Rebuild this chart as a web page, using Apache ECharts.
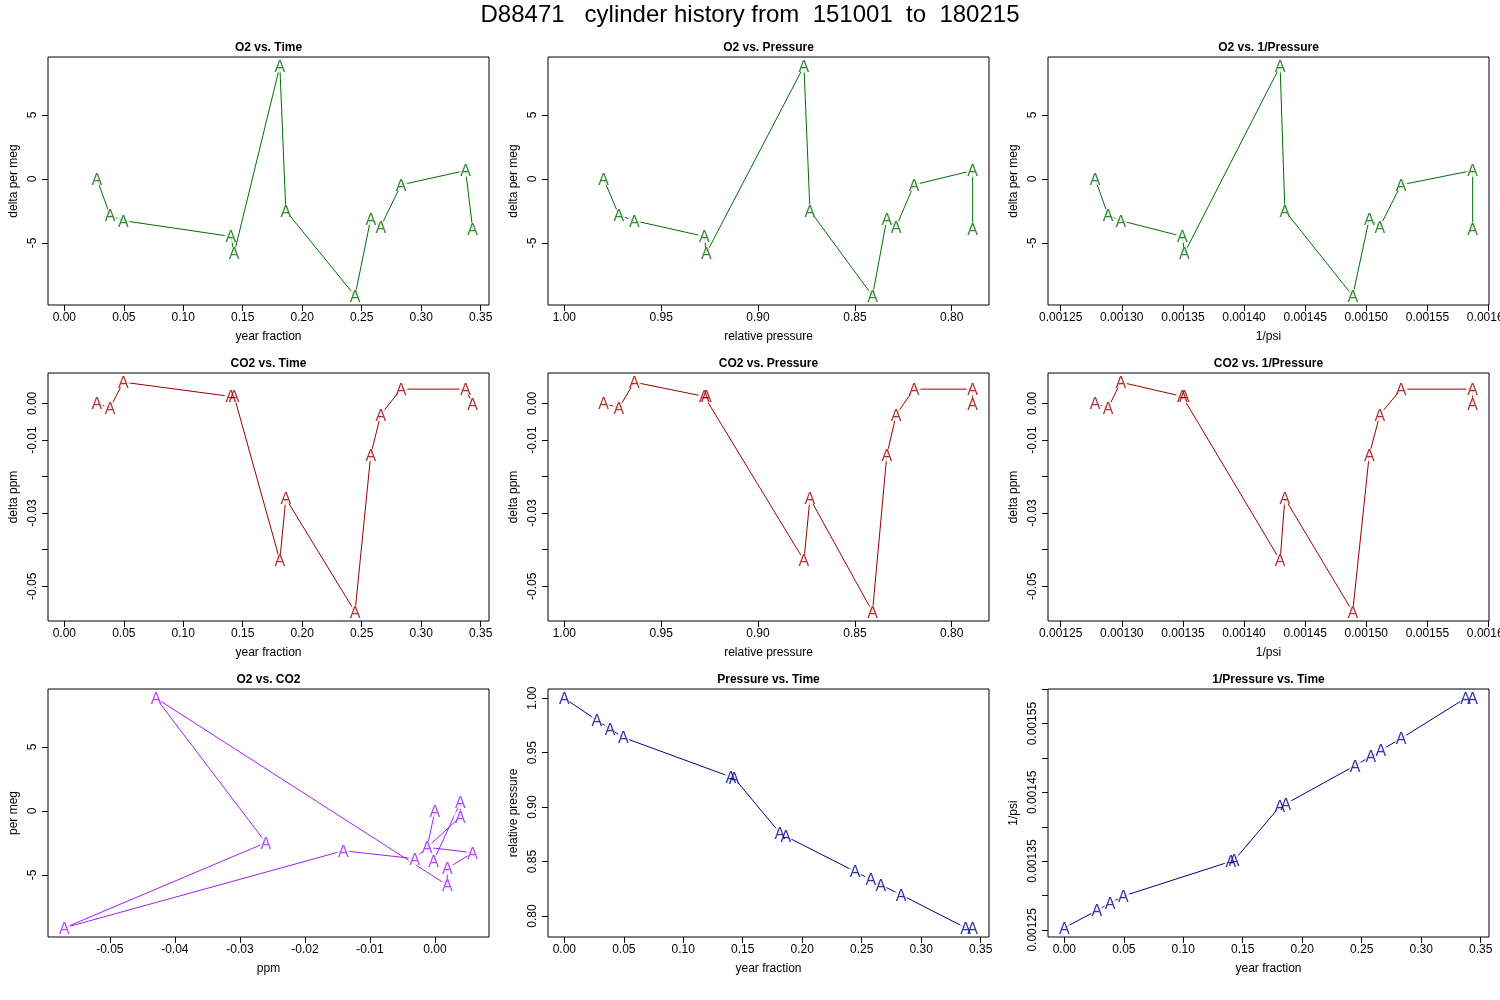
<!DOCTYPE html>
<html>
<head>
<meta charset="utf-8">
<script src="https://cdn.jsdelivr.net/npm/echarts@6/dist/echarts.min.js"></script>
<style>
html,body{margin:0;padding:0;background:#fff;}
#chart{width:1500px;height:1000px;}
</style>
</head>
<body>
<div id="chart"></div>
<script>
// ---- data ----
// index 0 = initial fill (pressure only); indices 1..13 have O2/CO2 measurements
const yearFraction = [0.0000, 0.0274, 0.0384, 0.0496, 0.1400, 0.1428, 0.1812, 0.1862, 0.2444, 0.2576, 0.2660, 0.2831, 0.3374, 0.3433];
const relPressure  = [1.0000, 0.9797, 0.9718, 0.9639, 0.9277, 0.9267, 0.8763, 0.8732, 0.8409, 0.8335, 0.8287, 0.8195, 0.7892, 0.7892];
const invPsi       = [0.0012530, 0.0012782, 0.0012888, 0.0012992, 0.0013496, 0.0013512, 0.0014295, 0.0014334, 0.0014889, 0.0015024, 0.0015111, 0.0015284, 0.0015870, 0.0015870];
const o2PerMeg     = [0.00, -2.85, -3.27, -4.50, -5.81, 8.80, -2.49, -9.14, -3.12, -3.74, -0.47, 0.65, -3.90];
const co2Ppm       = [0.0000, -0.0012, 0.0058, 0.0019, 0.0019, -0.0429, -0.0260, -0.0570, -0.0141, -0.0031, 0.0039, 0.0039, -0.0002];

const timeTicks = [0, 0.05, 0.10, 0.15, 0.20, 0.25, 0.30, 0.35];
const pressureTicks = [0.80, 0.85, 0.90, 0.95, 1.00];
const invPsiTicks = [0.00125, 0.00130, 0.00135, 0.00140, 0.00145, 0.00150, 0.00155, 0.00160];
const invPsiYLabels = [0.00125, 0.00135, 0.00145, 0.00155];
const o2Ticks = [-5, 0, 5];
const co2Ticks = [0, -0.01, -0.02, -0.03, -0.04, -0.05];
const co2YLabels = [0, -0.01, -0.03, -0.05];

const mainTitle = 'D88471   cylinder history from  151001  to  180215';

// ---- layout / style ----
const F = 'Liberation Sans, Arial, Helvetica, sans-serif';
const GREEN = '#006E00', RED = '#990000', PURPLE = '#A020F0', BLUE = '#00008B';
const LEFTS = [48, 548, 1048], TOPS = [57, 373, 689], W = 441, H = 248;

function rng(a){ const lo = Math.min(...a), hi = Math.max(...a), d = (hi - lo) * 0.04; return [lo - d, hi + d]; }
const fmt2 = v => v.toFixed(2);
const fmt5 = v => v.toFixed(5);
const fmtInt = v => String(Math.round(v));

const gasIdx = o2PerMeg.map((_, i) => i + 1);
const timeR = rng(yearFraction), presR = rng(relPressure), invR = rng(invPsi), o2R = rng(o2PerMeg), co2R = rng(co2Ppm);

const AX = {
  time: {min: timeR[0], max: timeR[1], ticks: timeTicks, labels: timeTicks, fmt: fmt2, name: 'year fraction'},
  pres: {min: presR[0], max: presR[1], ticks: pressureTicks, labels: pressureTicks, fmt: fmt2, name: 'relative pressure', inverse: true},
  presY: {min: presR[0], max: presR[1], ticks: pressureTicks, labels: pressureTicks, fmt: fmt2, name: 'relative pressure'},
  inv: {min: invR[0], max: invR[1], ticks: invPsiTicks, labels: invPsiTicks, fmt: fmt5, name: '1/psi'},
  invY: {min: invR[0], max: invR[1], ticks: invPsiTicks, labels: invPsiYLabels, fmt: fmt5, name: '1/psi'},
  o2: {min: o2R[0], max: o2R[1], ticks: o2Ticks, labels: o2Ticks, fmt: fmtInt, name: 'delta per meg'},
  o2b: {min: o2R[0], max: o2R[1], ticks: o2Ticks, labels: o2Ticks, fmt: fmtInt, name: 'per meg'},
  co2: {min: co2R[0], max: co2R[1], ticks: co2Ticks, labels: co2YLabels, fmt: fmt2, name: 'delta ppm'},
  co2x: {min: co2R[0], max: co2R[1], ticks: co2Ticks, labels: co2Ticks, fmt: fmt2, name: 'ppm'}
};

const grids = [], xAxes = [], yAxes = [], series = [];
const titles = [{
  text: mainTitle, left: 750, top: 3, textAlign: 'center', padding: 0,
  textStyle: {fontFamily: F, fontSize: 24, fontWeight: 'normal', color: '#000'}
}];

function addPanel(r, c, title, xc, yc, xs, ys, color){
  const i = grids.length;
  grids.push({left: LEFTS[c], top: TOPS[r], width: W, height: H, show: true,
    borderColor: '#000', borderWidth: 1, backgroundColor: 'transparent',
    containLabel: false, outerBoundsMode: 'none'});
  titles.push({text: title, left: LEFTS[c] + W / 2, top: TOPS[r] - 15, textAlign: 'center', padding: 0,
    textStyle: {fontFamily: F, fontSize: 12, fontWeight: 'bold', color: '#000'}});
  xAxes.push({gridIndex: i, type: 'value', min: xc.min, max: xc.max, inverse: !!xc.inverse,
    name: xc.name, nameLocation: 'middle', nameGap: 26,
    nameTextStyle: {fontFamily: F, fontSize: 12, color: '#000'},
    axisLine: {show: false, onZero: false}, splitLine: {show: false},
    axisTick: {show: true, length: 6, lineStyle: {color: '#000', width: 1}, customValues: xc.ticks},
    axisLabel: {customValues: xc.labels, formatter: xc.fmt, fontFamily: F, fontSize: 12, color: '#000', margin: 7}
  });
  yAxes.push({gridIndex: i, type: 'value', min: yc.min, max: yc.max,
    name: yc.name, nameLocation: 'middle', nameGap: 28,
    nameTextStyle: {fontFamily: F, fontSize: 12, color: '#000'},
    axisLine: {show: false, onZero: false}, splitLine: {show: false},
    axisTick: {show: true, length: 6, lineStyle: {color: '#000', width: 1}, customValues: yc.ticks},
    axisLabel: {customValues: yc.labels, formatter: yc.fmt, rotate: 90, fontFamily: F, fontSize: 12, color: '#000', margin: 9}
  });
  const pts = xs.map((x, k) => [x, ys[k]]);
  // connecting line
  series.push({type: 'line', xAxisIndex: i, yAxisIndex: i, data: pts, symbol: 'none', silent: true,
    lineStyle: {color: color, width: 1}, z: 2});
  // white gaps around each point (like R type = "b")
  series.push({type: 'scatter', xAxisIndex: i, yAxisIndex: i, data: pts, symbol: 'circle', symbolSize: 13, silent: true,
    itemStyle: {color: '#fff'}, z: 3});
  // "A" plotting characters
  series.push({type: 'scatter', xAxisIndex: i, yAxisIndex: i, data: pts, symbol: 'circle', symbolSize: 1, silent: true,
    itemStyle: {color: 'rgba(0,0,0,0)'}, z: 4,
    label: {show: true, position: 'inside', formatter: 'A', color: color, fontFamily: F, fontSize: 16, offset: [0, 1.5]}});
}

const tG = gasIdx.map(k => yearFraction[k]);
const pG = gasIdx.map(k => relPressure[k]);
const iG = gasIdx.map(k => invPsi[k]);

addPanel(0, 0, 'O2 vs. Time', AX.time, AX.o2, tG, o2PerMeg, GREEN);
addPanel(0, 1, 'O2 vs. Pressure', AX.pres, AX.o2, pG, o2PerMeg, GREEN);
addPanel(0, 2, 'O2 vs. 1/Pressure', AX.inv, AX.o2, iG, o2PerMeg, GREEN);
addPanel(1, 0, 'CO2 vs. Time', AX.time, AX.co2, tG, co2Ppm, RED);
addPanel(1, 1, 'CO2 vs. Pressure', AX.pres, AX.co2, pG, co2Ppm, RED);
addPanel(1, 2, 'CO2 vs. 1/Pressure', AX.inv, AX.co2, iG, co2Ppm, RED);
addPanel(2, 0, 'O2 vs. CO2', AX.co2x, AX.o2b, co2Ppm, o2PerMeg, PURPLE);
addPanel(2, 1, 'Pressure vs. Time', AX.time, AX.presY, yearFraction, relPressure, BLUE);
addPanel(2, 2, '1/Pressure vs. Time', AX.time, AX.invY, yearFraction, invPsi, BLUE);

const chart = echarts.init(document.getElementById('chart'), null, {renderer: 'canvas'});
chart.setOption({
  backgroundColor: '#fff',
  animation: false,
  title: titles,
  grid: grids,
  xAxis: xAxes,
  yAxis: yAxes,
  series: series
});
</script>
</body>
</html>
